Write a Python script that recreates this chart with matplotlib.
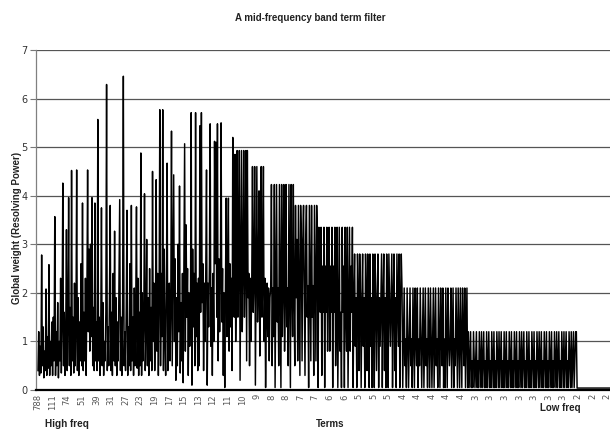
import matplotlib
matplotlib.use("Agg")
import matplotlib.pyplot as plt
import numpy as np

# ---------------- data (global weight of terms, sorted by document frequency) -------------
# one category label every 20 terms on the category axis
tick_labels = ['788', '111', '74', '51', '39', '31', '27', '23', '19', '17',
               '15', '13', '12', '11', '10', '9', '8', '8', '7', '7',
               '6', '6', '5', '5', '5', '4', '4', '4', '4', '4',
               '3', '3', '3', '3', '3', '3', '3', '2', '2', '2']
terms_per_label = 20

hf_788_51 = [0.4, 1.2, 0.3, 0.9, 0.35, 2.78, 0.5, 1.3, 0.25, 0.8, 0.4, 2.08, 0.3, 1.1, 0.45, 2.58, 0.3, 1.0, 0.5, 1.4,
             0.3, 1.5, 0.6, 3.57, 0.3, 1.2, 0.5, 1.8, 0.25, 1.0, 0.6, 2.3, 0.35, 1.4, 4.26, 0.5, 1.6, 0.3, 1.1, 3.3,
             0.4, 1.3, 3.96, 0.5, 1.7, 0.3, 4.52, 0.6, 1.5, 0.35, 2.2, 0.5, 1.2, 4.53, 0.4, 1.9, 0.3, 1.4, 0.6, 2.6,
             0.5, 3.85, 0.4, 1.6, 0.6, 2.3, 0.3, 1.8, 4.53, 1.2, 2.9, 0.8, 3.0, 1.1, 3.96, 0.5, 1.7, 0.4, 3.85, 0.6]
hf_39_23 = [1.4, 0.4, 5.57, 0.6, 1.5, 0.3, 1.2, 3.75, 0.5, 1.8, 0.3, 1.0, 0.6, 1.6, 6.29, 0.4, 1.3, 0.5, 2.0, 3.8,
            0.4, 1.6, 0.3, 2.4, 0.6, 3.27, 0.5, 1.9, 0.3, 1.4, 0.6, 2.2, 3.92, 0.4, 1.5, 0.3, 1.8, 6.46, 0.5, 1.2,
            0.4, 1.7, 3.7, 0.3, 1.3, 0.5, 2.6, 0.4, 3.8, 0.6, 1.5, 0.3, 2.1, 0.5, 1.8, 3.77, 0.45, 2.3, 0.3, 1.6,
            0.5, 4.88, 0.3, 2.0, 0.6, 1.4, 4.04, 0.4, 1.2, 3.1, 0.5, 1.9, 0.3, 2.5, 0.6, 1.7, 0.4, 4.5, 1.0, 2.2]
mf_19_13 = [0.4, 1.5, 4.33, 0.8, 2.4, 0.3, 1.9, 5.77, 0.5, 2.4, 1.1, 5.77, 0.4, 2.9, 1.2, 0.3, 2.1, 4.67, 0.4, 1.8,
            2.2, 0.6, 1.7, 5.33, 0.5, 2.5, 4.43, 1.0, 2.7, 0.2, 1.9, 0.5, 3.0, 1.2, 4.2, 0.35, 1.8, 0.6, 2.4, 0.15,
            2.6, 5.07, 0.8, 3.4, 1.5, 2.5, 0.3, 2.0, 0.9, 1.6, 5.71, 0.1, 2.9, 1.3, 2.4, 0.5, 5.71, 1.1, 2.2, 0.4,
            2.3, 0.5, 5.44, 1.6, 5.71, 1.8, 2.6, 0.4, 2.2, 1.0, 2.5, 4.53, 0.1, 2.2, 1.3, 2.6, 5.48, 0.9, 2.1, 0.3]
mf_12_9 = [2.4, 1.0, 5.12, 2.6, 5.1, 1.5, 5.48, 0.6, 2.7, 1.2, 2.3, 5.5, 1.4, 2.5, 0.3, 2.0, 0.05, 2.2, 3.95, 1.1,
           2.0, 3.95, 0.8, 2.6, 1.3, 2.3, 0.4, 5.2, 2.2, 1.5, 4.85, 1.0, 2.4, 4.93, 1.5, 2.4, 4.93, 0.2, 2.4, 4.93,
           1.2, 2.4, 4.93, 1.5, 2.5, 4.93, 0.6, 4.93, 1.9, 2.4, 0.5, 2.3, 1.0, 2.2, 4.6, 1.6, 2.3, 4.6, 0.1, 2.3,
           4.6, 1.4, 2.3, 4.1, 0.7, 2.3, 4.6, 1.5, 2.2, 4.6, 1.0, 2.3, 0.05, 1.5, 2.2, 1.1, 2.1, 0.6, 1.9, 2.1]
f8_7 = [4.23, 0.5, 2.1, 1.1, 4.23, 0.05, 2.1, 4.23, 1.4, 2.1, 0.5, 4.23, 2.1, 0.05, 4.23, 1.1, 2.1, 4.23, 0.8, 2.1,
        4.23, 1.3, 2.1, 0.5, 4.23, 2.1, 0.05, 4.23, 2.1, 1.1, 4.23, 1.9, 0.5, 3.8, 1.9, 3.1, 0.6, 3.8, 2.15, 0.3,
        3.8, 3.1, 0.6, 3.1, 3.8, 2.15, 0.3, 3.1, 3.8, 1.5, 2.15, 0.05, 3.8, 2.15, 0.6, 3.8, 1.5, 2.15, 0.3, 3.8,
        2.15, 0.6, 3.8, 3.1, 0.05, 3.35, 3.1, 1.6, 3.35, 0.3, 2.55, 1.6, 3.35, 0.05, 2.55, 1.6, 3.35, 0.8, 2.55, 3.35]
f6_5 = [0.8, 2.55, 1.6, 3.35, 0.05, 2.55, 1.6, 3.35, 0.5, 1.6, 3.35, 0.05, 1.6, 3.35, 0.8, 1.6, 0.05, 3.35, 1.6, 2.55,
        0.05, 3.35, 1.6, 0.8, 3.35, 0.05, 1.6, 3.35, 0.8, 2.55, 1.6, 3.35, 0.05, 1.9, 2.8, 0.9, 1.9, 0.05, 2.8, 1.9,
        0.4, 2.8, 1.9, 0.05, 1.9, 2.8, 0.9, 1.9, 0.05, 2.8, 1.9, 0.4, 2.8, 1.9, 0.05, 2.8, 0.9, 1.9, 0.05, 2.8,
        1.9, 0.05, 2.8, 1.9, 0.4, 1.9, 2.8, 0.05, 1.9, 0.9, 1.9, 2.8, 0.05, 1.9, 2.8, 0.4, 1.9, 0.05, 2.8, 1.9,
        0.05, 2.8, 1.9, 0.9, 1.9, 2.8, 0.05, 1.9, 2.8, 0.4, 1.9, 0.05, 2.8, 1.9, 0.9, 2.8, 0.05, 1.9, 2.8, 2.1]
f4 = [0.05, 1.05, 2.1, 0.5, 1.05, 0.05, 2.1, 1.05, 0.05, 1.05, 2.1, 0.5, 1.05, 0.05, 2.1, 1.05, 0.05, 2.1, 1.05, 0.5,
      2.1, 0.05, 1.05, 0.5, 2.1, 1.05, 0.05, 1.05, 2.1, 0.05, 1.05, 2.1, 0.5, 1.05, 0.05, 2.1, 1.05, 0.05, 2.1, 1.05,
      0.05, 1.05, 2.1, 0.05, 1.05, 2.1, 0.5, 1.05, 0.05, 2.1, 1.05, 0.05, 2.1, 1.05, 0.5, 2.1, 0.05, 1.05, 0.05, 2.1,
      1.05, 0.05, 2.1, 1.05, 0.5, 1.05, 2.1, 0.05, 1.05, 2.1, 0.05, 1.05, 0.5, 2.1, 1.05, 0.05, 2.1, 1.05, 0.05, 2.1,
      1.05, 0.05, 2.1, 1.05, 0.5, 2.1, 0.05, 1.05, 2.1, 0.05, 1.2, 0.05, 0.6, 1.2, 0.05, 0.6, 0.05, 1.2, 0.6, 0.05]
f3 = [0.6, 1.2, 0.05, 0.6, 0.05, 1.2, 0.6, 0.05, 1.2, 0.05, 0.6, 1.2, 0.05, 0.6, 0.05, 1.2, 0.05, 0.6, 1.2, 0.05,
      0.6, 0.05, 1.2, 0.6, 0.05, 1.2, 0.05, 0.6, 0.05, 1.2, 0.6, 0.05, 1.2, 0.05, 0.6, 1.2, 0.05, 0.6, 0.05, 1.2,
      0.05, 0.6, 1.2, 0.05, 0.6, 0.05, 1.2, 0.6, 0.05, 1.2, 0.05, 0.6, 0.05, 1.2, 0.6, 0.05, 1.2, 0.05, 0.6, 0.05,
      1.2, 0.6, 0.05, 1.2, 0.05, 0.6, 1.2, 0.05, 0.6, 0.05, 1.2, 0.6, 0.05, 1.2, 0.05, 0.6, 0.05, 1.2, 0.6, 0.05,
      1.2, 0.05, 0.6, 0.05, 1.2, 0.6, 0.05, 1.2, 0.05, 0.6, 1.2, 0.05, 0.6, 0.05, 1.2, 0.6, 0.05, 1.2, 0.05, 0.6,
      0.05, 1.2, 0.6, 0.05, 1.2, 0.05, 0.6, 0.05, 1.2, 0.6, 0.05, 1.2, 0.05, 0.6, 1.2, 0.05, 0.6, 0.05, 1.2, 0.6,
      0.05, 1.2, 0.05, 0.6, 1.2, 0.05, 0.6, 0.05, 1.2, 0.6, 0.05, 1.2, 0.05, 0.6, 1.2, 0.05, 0.6, 1.2, 1.2, 0.04]
f2 = [0.04, 0.04, 0.04, 0.04, 0.04, 0.04, 0.04, 0.04, 0.04, 0.04, 0.04, 0.04, 0.04, 0.04, 0.04, 0.04, 0.04, 0.04, 0.04, 0.04,
      0.04, 0.04, 0.04, 0.04, 0.04, 0.04, 0.04, 0.04, 0.04, 0.04, 0.04, 0.04, 0.04, 0.04, 0.04, 0.04, 0.04, 0.04, 0.04, 0.04,
      0.04, 0.04, 0.04, 0.04, 0.04, 0.04, 0.04, 0.04, 0.04, 0.04, 0.04, 0.04, 0.04, 0.04, 0.04, 0.04, 0.04, 0.04, 0.04, 0.04]

weights = np.array(hf_788_51 + hf_39_23 + mf_19_13 + mf_12_9 + f8_7 + f6_5 + f4 + f3 + f2)
terms = np.arange(len(weights))

# ---------------- figure ----------------
W, H = 610, 434
fig = plt.figure(figsize=(W / 100, H / 100), dpi=100)
fig.patch.set_facecolor('white')

ax_left, ax_right, ax_bottom, ax_top = 36, 612, 390, 50
ax = fig.add_axes([ax_left / W, 1 - ax_bottom / H, (ax_right - ax_left) / W, (ax_bottom - ax_top) / H])
ax.set_facecolor('white')

ax.plot(terms, weights, color='black', lw=1.05, solid_joinstyle='round', zorder=3)

px_per_term = (607 - 38) / (39 * terms_per_label)
x0 = -(38 - ax_left) / px_per_term
ax.set_xlim(x0, x0 + (ax_right - ax_left) / px_per_term)
ax.set_ylim(0, 7)

ax.set_yticks(range(0, 8))
ax.yaxis.grid(True, color='#555555', lw=0.9)
ax.set_axisbelow(True)
ax.tick_params(axis='y', length=4, width=0.8, color='#777777', labelsize=7, labelcolor='#333333', pad=2)

ax.set_xticks(np.arange(len(tick_labels)) * terms_per_label)
ax.set_xticklabels(tick_labels, rotation=90, fontsize=6, color='#555555', va='top', ha='center')
ax.tick_params(axis='x', length=0, pad=3)

for s in ['top', 'right']:
    ax.spines[s].set_visible(False)
ax.spines['left'].set_color('#808080')
ax.spines['left'].set_linewidth(0.9)
ax.spines['bottom'].set_color('black')
ax.spines['bottom'].set_linewidth(1.6)

bold = dict(fontweight='bold', color='#222222', family=['Liberation Sans Narrow', 'Liberation Sans', 'DejaVu Sans'])

fig.text(310 / W, 1 - 18 / H, 'A mid-frequency band term filter', ha='center', va='center', fontsize=7, **bold)
fig.text(17.5 / W, 1 - 228 / H, 'Global weight (Resolving Power)', rotation=90, ha='center', va='center', fontsize=7, **bold)
fig.text(330 / W, 1 - 424 / H, 'Terms', ha='center', va='center', fontsize=7, **bold)
fig.text(45 / W, 1 - 424 / H, 'High freq', ha='left', va='center', fontsize=7.2, **bold)
fig.text(540 / W, 1 - 408 / H, 'Low freq', ha='left', va='center', fontsize=7, **bold)

fig.savefig('out.png', dpi=100)
